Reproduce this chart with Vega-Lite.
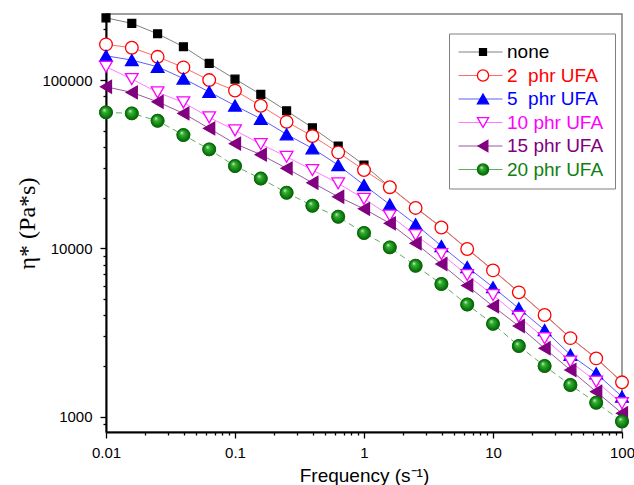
{
  "$schema": "https://vega.github.io/schema/vega-lite/v6.json",
  "width": 516,
  "height": 418,
  "autosize": "none",
  "padding": {"left": 106, "top": 14, "right": 12, "bottom": 53},
  "background": "white",
  "config": {
    "view": {"stroke": "#808080", "strokeWidth": 1.5},
    "axis": {"labelFont": "Liberation Sans", "titleFont": "Liberation Sans", "labelColor": "#000", "titleColor": "#000", "domainColor": "#000", "domainWidth": 2, "tickColor": "#000", "tickWidth": 1.3, "grid": false},
    "legend": {"labelFont": "Liberation Sans"}
  },
  "data": {"values": [
    {"f":0.01,"v":234400,"s":"none"},{"f":0.01585,"v":217300,"s":"none"},{"f":0.02512,"v":188400,"s":"none"},{"f":0.03981,"v":157800,"s":"none"},{"f":0.0631,"v":125700,"s":"none"},{"f":0.1,"v":101400,"s":"none"},{"f":0.1585,"v":82200,"s":"none"},{"f":0.2512,"v":65700,"s":"none"},{"f":0.3981,"v":52100,"s":"none"},{"f":0.631,"v":40600,"s":"none"},{"f":1,"v":31300,"s":"none"},{"f":1.585,"v":23200,"s":"none"},{"f":2.512,"v":17500,"s":"none"},{"f":3.981,"v":13370,"s":"none"},{"f":6.31,"v":9960,"s":"none"},{"f":10,"v":7440,"s":"none"},{"f":15.85,"v":5510,"s":"none"},{"f":25.12,"v":4040,"s":"none"},{"f":39.81,"v":2945,"s":"none"},{"f":63.1,"v":2230,"s":"none"},{"f":100,"v":1608,"s":"none"},
    {"f":0.01,"v":163000,"s":"2"},{"f":0.01585,"v":155700,"s":"2"},{"f":0.02512,"v":137500,"s":"2"},{"f":0.03981,"v":119000,"s":"2"},{"f":0.0631,"v":100000,"s":"2"},{"f":0.1,"v":86600,"s":"2"},{"f":0.1585,"v":70400,"s":"2"},{"f":0.2512,"v":56500,"s":"2"},{"f":0.3981,"v":46500,"s":"2"},{"f":0.631,"v":37200,"s":"2"},{"f":1,"v":29200,"s":"2"},{"f":1.585,"v":23100,"s":"2"},{"f":2.512,"v":17400,"s":"2"},{"f":3.981,"v":13300,"s":"2"},{"f":6.31,"v":9910,"s":"2"},{"f":10,"v":7400,"s":"2"},{"f":15.85,"v":5480,"s":"2"},{"f":25.12,"v":4020,"s":"2"},{"f":39.81,"v":2930,"s":"2"},{"f":63.1,"v":2220,"s":"2"},{"f":100,"v":1600,"s":"2"},
    {"f":0.01,"v":139400,"s":"5"},{"f":0.01585,"v":131500,"s":"5"},{"f":0.02512,"v":120000,"s":"5"},{"f":0.03981,"v":102100,"s":"5"},{"f":0.0631,"v":85100,"s":"5"},{"f":0.1,"v":70560,"s":"5"},{"f":0.1585,"v":58900,"s":"5"},{"f":0.2512,"v":47600,"s":"5"},{"f":0.3981,"v":39300,"s":"5"},{"f":0.631,"v":31260,"s":"5"},{"f":1,"v":23780,"s":"5"},{"f":1.585,"v":18220,"s":"5"},{"f":2.512,"v":13900,"s":"5"},{"f":3.981,"v":10330,"s":"5"},{"f":6.31,"v":7750,"s":"5"},{"f":10,"v":5880,"s":"5"},{"f":15.85,"v":4400,"s":"5"},{"f":25.12,"v":3270,"s":"5"},{"f":39.81,"v":2330,"s":"5"},{"f":63.1,"v":1810,"s":"5"},{"f":100,"v":1315,"s":"5"},
    {"f":0.01,"v":120000,"s":"10"},{"f":0.01585,"v":101400,"s":"10"},{"f":0.02512,"v":84500,"s":"10"},{"f":0.03981,"v":73700,"s":"10"},{"f":0.0631,"v":60030,"s":"10"},{"f":0.1,"v":50250,"s":"10"},{"f":0.1585,"v":41690,"s":"10"},{"f":0.2512,"v":35030,"s":"10"},{"f":0.3981,"v":29200,"s":"10"},{"f":0.631,"v":24350,"s":"10"},{"f":1,"v":19700,"s":"10"},{"f":1.585,"v":15680,"s":"10"},{"f":2.512,"v":12000,"s":"10"},{"f":3.981,"v":9260,"s":"10"},{"f":6.31,"v":6945,"s":"10"},{"f":10,"v":5284,"s":"10"},{"f":15.85,"v":3927,"s":"10"},{"f":25.12,"v":2922,"s":"10"},{"f":39.81,"v":2123,"s":"10"},{"f":63.1,"v":1614,"s":"10"},{"f":100,"v":1202,"s":"10"},
    {"f":0.01,"v":91250,"s":"15"},{"f":0.01585,"v":84500,"s":"15"},{"f":0.02512,"v":74310,"s":"15"},{"f":0.03981,"v":63420,"s":"15"},{"f":0.0631,"v":51650,"s":"15"},{"f":0.1,"v":41910,"s":"15"},{"f":0.1585,"v":36060,"s":"15"},{"f":0.2512,"v":29890,"s":"15"},{"f":0.3981,"v":24550,"s":"15"},{"f":0.631,"v":20270,"s":"15"},{"f":1,"v":17180,"s":"15"},{"f":1.585,"v":14090,"s":"15"},{"f":2.512,"v":10720,"s":"15"},{"f":3.981,"v":8072,"s":"15"},{"f":6.31,"v":6017,"s":"15"},{"f":10,"v":4532,"s":"15"},{"f":15.85,"v":3457,"s":"15"},{"f":25.12,"v":2549,"s":"15"},{"f":39.81,"v":1894,"s":"15"},{"f":63.1,"v":1408,"s":"15"},{"f":100,"v":1048,"s":"15"},
    {"f":0.01,"v":64290,"s":"20"},{"f":0.01585,"v":63420,"s":"20"},{"f":0.02512,"v":57310,"s":"20"},{"f":0.03981,"v":47140,"s":"20"},{"f":0.0631,"v":38760,"s":"20"},{"f":0.1,"v":30850,"s":"20"},{"f":0.1585,"v":25990,"s":"20"},{"f":0.2512,"v":21410,"s":"20"},{"f":0.3981,"v":17930,"s":"20"},{"f":0.631,"v":15420,"s":"20"},{"f":1,"v":12340,"s":"20"},{"f":1.585,"v":10140,"s":"20"},{"f":2.512,"v":7888,"s":"20"},{"f":3.981,"v":6140,"s":"20"},{"f":6.31,"v":4640,"s":"20"},{"f":10,"v":3562,"s":"20"},{"f":15.85,"v":2630,"s":"20"},{"f":25.12,"v":2001,"s":"20"},{"f":39.81,"v":1543,"s":"20"},{"f":63.1,"v":1211,"s":"20"},{"f":100,"v":937,"s":"20"}
  ]},
  "encoding": {
    "x": {"field": "f", "type": "quantitative",
      "scale": {"type": "log", "domain": [0.01, 100], "nice": false},
      "axis": {"title": "Frequency (s⁻¹)", "titleFontSize": 19, "titleFontWeight": "normal", "titlePadding": 6, "labelFontSize": 15, "labelPadding": 7, "format": "~g", "labelFlush": false, "labelOverlap": false,
        "values": [0.01,0.02,0.03,0.04,0.05,0.06,0.07,0.08,0.09,0.1,0.2,0.3,0.4,0.5,0.6,0.7,0.8,0.9,1,2,3,4,5,6,7,8,9,10,20,30,40,50,60,70,80,90,100],
        "labelExpr": "abs(log(datum.value)/LN10 - round(log(datum.value)/LN10)) < 1e-6 ? datum.label : ''",
        "tickSize": {"condition": {"test": "abs(log(datum.value)/LN10 - round(log(datum.value)/LN10)) < 1e-6", "value": 6}, "value": 3}}},
    "y": {"field": "v", "type": "quantitative",
      "scale": {"type": "log", "domain": [811, 247000], "nice": false},
      "axis": {"title": "η* (Pa*s)", "titleFont": "Liberation Serif", "titleFontSize": 24, "titleFontWeight": "normal", "titlePadding": 2, "labelFontSize": 15, "labelPadding": 8, "format": "d", "labelFlush": false, "labelOverlap": false,
        "values": [900,1000,2000,3000,4000,5000,6000,7000,8000,9000,10000,20000,30000,40000,50000,60000,70000,80000,90000,100000,200000],
        "labelExpr": "abs(log(datum.value)/LN10 - round(log(datum.value)/LN10)) < 1e-6 ? datum.label : ''",
        "tickSize": {"condition": {"test": "abs(log(datum.value)/LN10 - round(log(datum.value)/LN10)) < 1e-6", "value": 6}, "value": 3}}}
  },
  "resolve": {"legend": {"shape": "independent"}},
  "layer": [
    {
      "transform": [{"filter": "datum.s != '20'"}],
      "mark": {"type": "line", "strokeWidth": 1},
      "encoding": {
        "stroke": {"field": "s", "type": "nominal",
          "scale": {"domain": ["none","2","5","10","15","20"], "range": ["#808080","#ff6a6a","#5c5cff","#ff7aff","#9a5a9a","#5fae5f"]},
          "legend": {"orient": "none", "legendX": 343, "legendY": 19.5, "title": null, "symbolType": "stroke", "symbolSize": 1936, "symbolStrokeWidth": 1, "clipHeight": 19, "labelFontSize": 19, "labelColor": "transparent", "labelOffset": 6, "rowPadding": 3.5, "padding": 9, "strokeColor": "#808080",
            "labelExpr": "datum.value == 'none' ? 'none' : (length(datum.value) == 1 ? '\u00a0' + datum.value + '\u00a0\u00a0phr UFA' : datum.value + ' phr UFA')"}}
      }
    },
    {
      "transform": [{"filter": "datum.s == '20'"}],
      "mark": {"type": "line", "strokeWidth": 1, "stroke": "#5fae5f", "strokeDash": [6, 4]},
      "encoding": {}
    },
    {
      "mark": {"type": "point", "filled": false, "opacity": 1, "strokeWidth": 1.3, "size": 160},
      "encoding": {
        "shape": {"field": "s", "type": "nominal", "sort": ["none","2","5","10","15","20"],
          "scale": {"range": ["M-0.62,-0.62H0.62V0.62H-0.62Z","circle","triangle-up","triangle-down","triangle-left","circle"]},
          "legend": {"orient": "none", "legendX": 367.5, "legendY": 28.5, "title": null, "labelFontSize": 19, "labelOffset": 14.5, "rowPadding": 3.5, "padding": 0, "clipHeight": 19, "symbolSize": 125, "symbolStrokeWidth": 1.3, "symbolOpacity": 1,
            "labelExpr": "datum.value == 'none' ? 'none' : (length(datum.value) == 1 ? '\u00a0' + datum.value + '\u00a0\u00a0phr UFA' : datum.value + ' phr UFA')",
            "labelColor": {"expr": "datum.value == '2' ? '#ff0000' : datum.value == '5' ? '#0000ff' : datum.value == '10' ? '#ff00ff' : datum.value == '15' ? '#800080' : datum.value == '20' ? '#108010' : '#000000'"},
            "symbolFillColor": {"expr": "datum.value == '2' ? '#ffffff' : datum.value == '5' ? '#0000ff' : datum.value == '10' ? '#ffffff' : datum.value == '15' ? '#800080' : datum.value == '20' ? {gradient: 'radial', x1: 0.35, y1: 0.3, r1: 0, x2: 0.5, y2: 0.5, r2: 0.5, stops: [{offset: 0, color: '#e8f6e8'}, {offset: 0.3, color: '#38b038'}, {offset: 0.7, color: '#128a12'}, {offset: 1, color: '#0a5e0a'}]} : '#000000'"},
            "symbolStrokeColor": {"expr": "datum.value == '2' ? '#ff0000' : datum.value == '5' ? '#0000ff' : datum.value == '10' ? '#ff00ff' : datum.value == '15' ? '#800080' : datum.value == '20' ? '#0b6b0b' : '#000000'"}}},
        "fill": {"field": "s", "type": "nominal", "sort": ["none","2","5","10","15","20"],
          "scale": {"range": ["#000000","#ffffff","#0000ff","#ffffff","#800080","#128712"]}, "legend": null},
        "color": {"field": "s", "type": "nominal", "sort": ["none","2","5","10","15","20"],
          "scale": {"range": ["#000000","#ff0000","#0000ff","#ff00ff","#800080","#0b6b0b"]}, "legend": null}
      }
    },
    {
      "transform": [{"filter": "datum.s == '20'"}],
      "mark": {"type": "point", "shape": "circle", "size": 165, "filled": true, "opacity": 1, "stroke": "#0b6b0b", "strokeWidth": 0.6,
        "fill": {"gradient": "radial", "x1": 0.35, "y1": 0.3, "r1": 0, "x2": 0.5, "y2": 0.5, "r2": 0.5,
          "stops": [{"offset": 0, "color": "#e8f6e8"}, {"offset": 0.3, "color": "#38b038"}, {"offset": 0.7, "color": "#128a12"}, {"offset": 1, "color": "#0a5e0a"}]}}
    }
  ]
}
